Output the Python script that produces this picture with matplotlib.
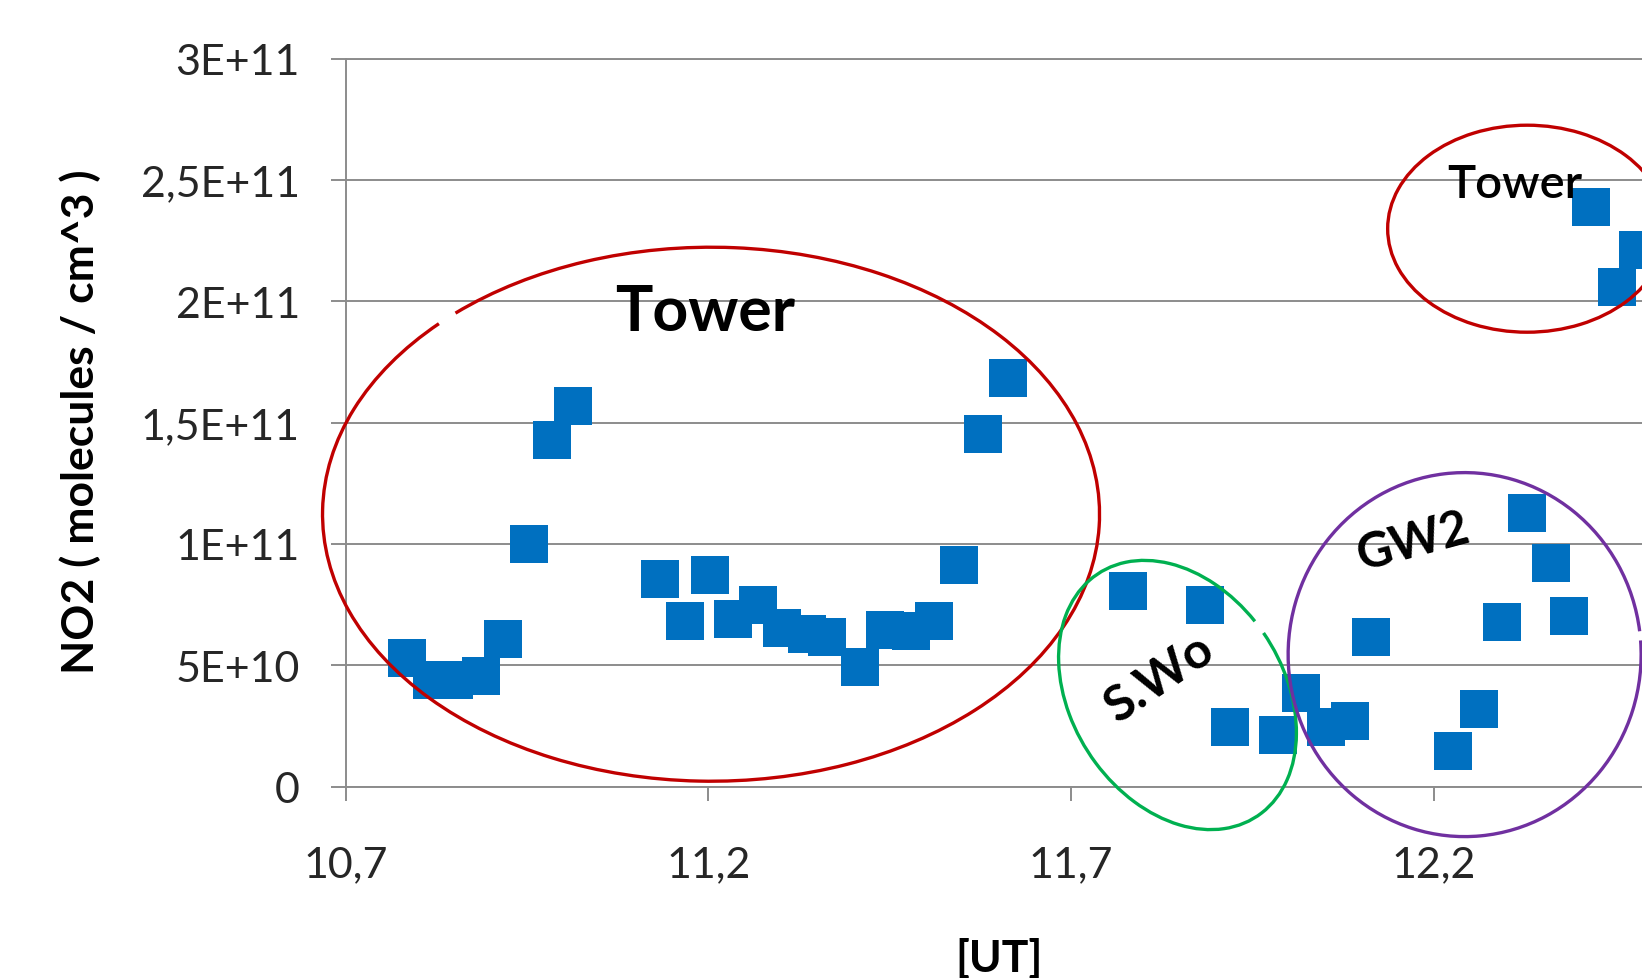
import matplotlib
matplotlib.use("Agg")
import matplotlib.pyplot as plt
from matplotlib.patches import Arc
from matplotlib.transforms import IdentityTransform

plt.rcParams['font.family'] = ['Lato', 'DejaVu Sans']

# measured points: UT hour and NO2 (molecules / cm^3)
ut = [10.784, 10.819, 10.850, 10.886, 10.917, 10.953, 10.985, 11.013,
      11.133, 11.168, 11.202, 11.234, 11.269, 11.302, 11.336, 11.364,
      11.409, 11.444, 11.479, 11.511, 11.546, 11.578, 11.613,
      11.779, 11.884, 11.919, 11.985, 12.017, 12.052, 12.084, 12.114,
      12.227, 12.262, 12.294, 12.329, 12.361, 12.386,
      12.417, 12.452, 12.481]
no2 = [5.30e10, 4.40e10, 4.38e10, 4.55e10, 6.06e10, 9.98e10, 1.427e11, 1.570e11,
       8.55e10, 6.81e10, 8.70e10, 6.90e10, 7.50e10, 6.54e10, 6.27e10, 6.17e10,
       4.93e10, 6.44e10, 6.40e10, 6.81e10, 9.12e10, 1.455e11, 1.685e11,
       8.06e10, 7.50e10, 2.44e10, 2.14e10, 3.86e10, 2.44e10, 2.72e10, 6.16e10,
       1.48e10, 3.21e10, 6.78e10, 1.126e11, 9.20e10, 7.02e10,
       2.39e11, 2.058e11, 2.21e11]

xticks = [10.7, 11.2, 11.7, 12.2]
xtick_labels = ['10,7', '11,2', '11,7', '12,2']
yticks = [0, 5e10, 1e11, 1.5e11, 2e11, 2.5e11, 3e11]
ytick_labels = ['0', '5E+10', '1E+11', '1,5E+11', '2E+11', '2,5E+11', '3E+11']

# group outlines: label, centre (data), width/height px, angle, gap (theta1, theta2), colour
groups = [
    ('big_tower', (11.2037, 1.1224e11), 777, 534, 0, (145, 141.8), '#C00000'),
    ('top_tower', (12.3287, 2.2993e11), 279, 207, 0, (0, 360), '#C00000'),
    ('swo', (11.8467, 3.772e10), 290, 212, 123, (280.6, 272.8), '#00B050'),
    ('gw2', (12.2425, 5.437e10), 353, 364, 0, (7.6, 4.6), '#7030A0'),
]

# labels: text, position, size, weight, rotation
labels = [
    ('Tower', (11.1955, 1.88e11), 45, 'bold', 0),
    ('Tower', (12.311, 2.43e11), 34, 'semibold', 0),
    ('S.Wo', (11.8215, 4.50e10), 36, 'bold', 34),
    ('GW2', (12.1714, 1.012e11), 35, 'bold', 15),
]

fig = plt.figure(figsize=(16.42, 9.79), dpi=100)
ax = fig.add_axes([0.2105, 0.1956, 0.7895, 0.7434])

grid_c = '#8c8c8c'
ax.set_xlim(10.7, 12.487)
ax.set_ylim(0, 3e11)
ax.set_yticks(yticks)
ax.set_yticklabels(ytick_labels)
ax.set_xticks(xticks)
ax.set_xticklabels(xtick_labels)
ax.yaxis.grid(True, color=grid_c, linewidth=1.4)
ax.set_axisbelow(True)
for s in ['right']:
    ax.spines[s].set_visible(False)
for s in ['left', 'bottom', 'top']:
    ax.spines[s].set_color(grid_c)
    ax.spines[s].set_linewidth(1.4)
ax.tick_params(axis='y', length=11, width=1.4, color=grid_c, pad=22,
               labelsize=31, labelcolor='#262626')
ax.tick_params(axis='x', length=10, width=1.4, color=grid_c, pad=32,
               labelsize=31, labelcolor='#262626')

ax.plot(ut, no2, linestyle='none', marker='s', markersize=28,
        color='#0070C0', markeredgewidth=0, zorder=3)

fig.canvas.draw()
for name, c, w, h, ang, gap, col in groups:
    px = ax.transData.transform(c)
    arc = Arc(px, w, h, angle=ang, theta1=gap[0], theta2=gap[1],
              color=col, linewidth=2.4, transform=IdentityTransform(),
              clip_on=False, zorder=4)
    fig.add_artist(arc)

for txt, pos, sz, wt, rot in labels:
    va = 'baseline' if rot == 0 else 'center'
    ax.text(pos[0], pos[1], txt, fontsize=sz, fontweight=wt, rotation=rot,
            ha='center', va=va, rotation_mode='anchor', color='black', zorder=5)

fig.text(80 / 1642, 1 - 421.5 / 979, 'NO2 ( molecules / cm^3 )', rotation=90,
         ha='center', va='center', fontsize=32, fontweight='bold')
fig.text(999 / 1642, 1 - 972 / 979, '[UT]', ha='center', va='baseline',
         fontsize=32, fontweight='bold')

fig.savefig('out.png', dpi=100)
